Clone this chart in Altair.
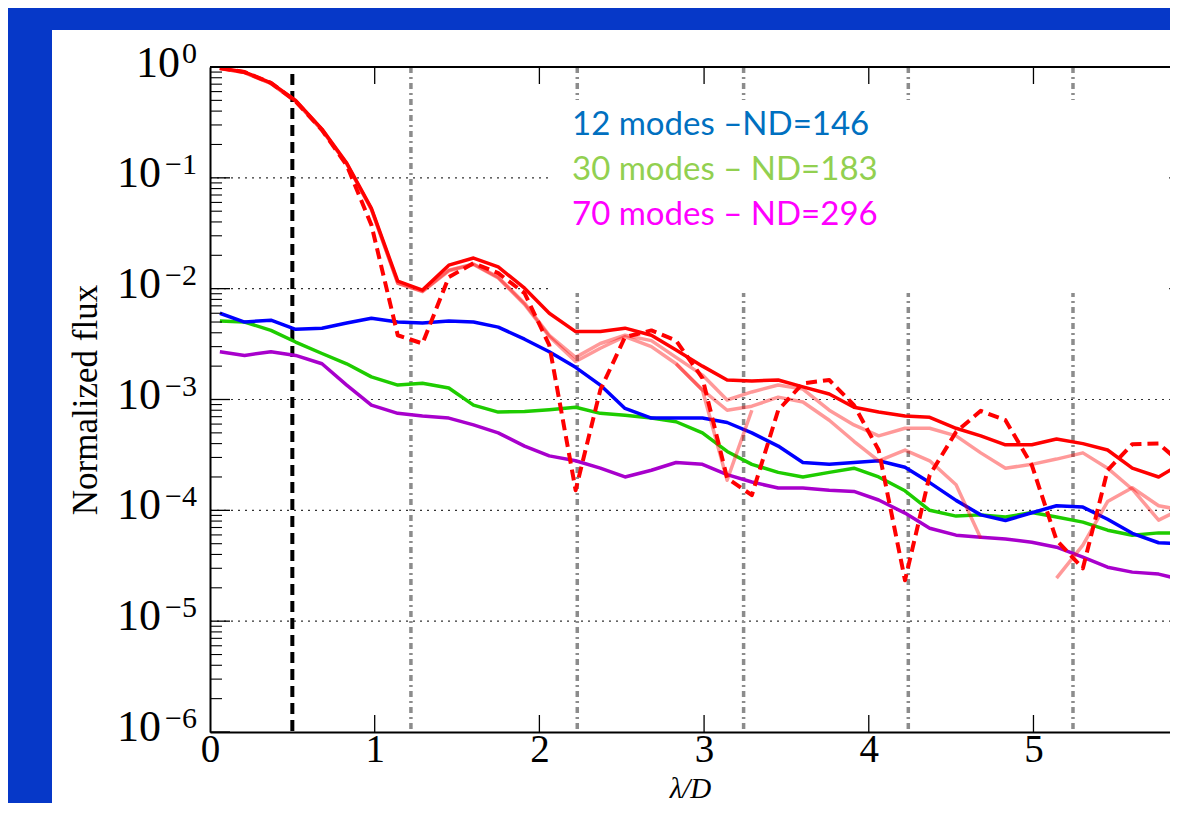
import altair as alt
import pandas as pd

# ---------------- data ----------------
X_LD = [0.06, 0.21, 0.37, 0.52, 0.68, 0.83, 0.98, 1.14, 1.29, 1.45, 1.60, 1.75, 1.91,
        2.06, 2.22, 2.37, 2.52, 2.68, 2.83, 2.99, 3.14, 3.29, 3.45, 3.60, 3.76, 3.91,
        4.06, 4.22, 4.37, 4.53, 4.68, 4.83, 4.99, 5.14, 5.30, 5.45, 5.60, 5.76, 5.91]

RED_SOLID = [0.98, 0.90, 0.72, 0.50, 0.275, 0.136, 0.053, 0.0117, 0.0097, 0.0163, 0.0189,
             0.0157, 0.0101, 0.0060, 0.0041, 0.0041, 0.0044, 0.0038, 0.0028, 0.0020, 0.0015,
             0.00147, 0.0015, 0.0013, 0.00112, 0.00085, 0.00077, 0.00071, 0.00069, 0.00055,
             0.00047, 0.00039, 0.00039, 0.00044, 0.00040, 0.00035, 0.00024, 0.00020, 0.00027]

RED_DASHED = [0.98, 0.90, 0.72, 0.49, 0.27, 0.13, 0.0375, 0.0038, 0.0032, 0.0127, 0.017,
              0.0138, 0.0091, 0.0031, 0.000152, 0.00122, 0.00366, 0.0042, 0.0034, 0.00156,
              0.000195, 0.000137, 0.0008, 0.0014, 0.0015, 0.00089, 0.00035, 0.0000234,
              0.000208, 0.00051, 0.00079, 0.00065, 0.000256, 0.0000538, 0.00003, 0.00023,
              0.000395, 0.00040, 0.000256]

PINK_1 = [0.97, 0.89, 0.71, 0.49, 0.27, 0.134, 0.052, 0.0112, 0.0095, 0.0147, 0.0167,
          0.0127, 0.0074, 0.0038, 0.0024, 0.0032, 0.0038, 0.0034, 0.0024, 0.00166, 0.00099,
          0.00117, 0.00135, 0.00124, 0.0008, 0.00059, 0.00047, 0.00055, 0.00055, 0.00047,
          0.00033, 0.00024, 0.00026, 0.00029, 0.00033, 0.00024, 0.000155, 0.0000816, 0.000105]

PINK_2 = [0.97, 0.89, 0.71, 0.49, 0.27, 0.134, 0.052, 0.0112, 0.0094, 0.0145, 0.0165,
          0.0125, 0.0072, 0.0037, 0.0022, 0.0029, 0.0037, 0.0030, 0.0021, 0.00122, 0.0008,
          0.00087, 0.00105, 0.00095, 0.00065, 0.00042, 0.00028, 0.00035, 0.00028, 0.00017,
          0.000056, None, None, 0.0000245, 0.0000485, 0.00012, 0.00016, 0.00011, 0.00010]

PINK_3 = [None] * 18 + [0.0021, 0.00122, 0.000187, 0.00080] + [None] * 17

BLUE = [0.0060, 0.0050, 0.0052, 0.0043, 0.0044, 0.0049, 0.0054, 0.0050, 0.0049, 0.0051,
        0.0050, 0.0045, 0.0035, 0.0027, 0.00195, 0.00135, 0.00083, 0.00068, 0.00068, 0.00068,
        0.00062, 0.0005, 0.00038, 0.00027, 0.00026, 0.00027, 0.00028, 0.000245, 0.000178,
        0.000123, 0.000091, 0.000081, 0.000095, 0.00011, 0.000107, 0.000083, 0.000062,
        0.000051, 0.00005]

GREEN = [0.0051, 0.0050, 0.0042, 0.0033, 0.0026, 0.0021, 0.0016, 0.00135, 0.0014, 0.00127,
         0.00089, 0.00077, 0.00078, 0.00081, 0.00085, 0.00075, 0.00072, 0.00068, 0.00063,
         0.0005, 0.00034, 0.00026, 0.00022, 0.0002, 0.00022, 0.00024, 0.0002, 0.00015, 0.0001,
         0.0000887, 0.000091, 0.0000869, 0.0000955, 0.0000869, 0.0000783, 0.0000662,
         0.0000597, 0.0000626, 0.0000626]

PURPLE = [0.0027, 0.0025, 0.0027, 0.0025, 0.0021, 0.00135, 0.00089, 0.00075, 0.00071,
          0.00068, 0.00059, 0.0005, 0.00038, 0.00031, 0.00028, 0.00024, 0.0002, 0.00023,
          0.00027, 0.00026, 0.00021, 0.00018, 0.000159, 0.000159, 0.000152, 0.000148,
          0.000124, 0.0000944, 0.000069, 0.0000597, 0.0000573, 0.000055, 0.0000516,
          0.0000465, 0.0000378, 0.0000307, 0.0000277, 0.0000266, 0.0000234]

AIRY_ZEROS = [1.22, 2.23, 3.24, 4.24, 5.24]
IWA = [0.5]
X_TICKS = [1, 2, 3, 4, 5]
Y_MAJOR = [1, 1e-1, 1e-2, 1e-3, 1e-4, 1e-5, 1e-6]
Y_EXP = ["0", "\u22121", "\u22122", "\u22123", "\u22124", "\u22125", "\u22126"]
Y_GRID = [1e-1, 1e-2, 1e-3, 1e-4, 1e-5]
MINOR_MULT = [2, 3, 4, 5, 6, 7, 8, 9]
Y_MINOR = [m * 10.0 ** e for e in range(-6, 0) for m in MINOR_MULT]

LEGEND_LINES = ["12 modes \u2013ND=146", "30 modes \u2013 ND=183", "70 modes \u2013 ND=296"]
LEGEND_COLORS = ["#0070C0", "#92D050", "#FF00FF"]

# ---------------- layout / style ----------------
W, H = 960, 665
X_MAX = 5.829
SERIF = "Liberation Serif"
BG = "#0638c8"

xs = alt.Scale(domain=[0, X_MAX], nice=False, zero=False)
ys = alt.Scale(type="log", domain=[1e-6, 1], nice=False)

X_AX = alt.Axis(title="\u03bb/D", values=[0, 1, 2, 3, 4, 5], format="d",
                labelFont=SERIF, labelFontSize=39, labelColor="black", labelPadding=-2,
                labelOverlap=False, labelFlush=False, ticks=False, grid=False,
                domain=True, domainColor="black", domainWidth=2, zindex=2,
                titleFont=SERIF, titleFontStyle="italic", titleFontWeight="normal",
                titleFontSize=29, titleColor="black", titleY=65,
                titleBaseline="alphabetic")
Y_AX = alt.Axis(title="Normalized flux", labels=False, ticks=False, grid=False,
                domain=True, domainColor="black", domainWidth=2, zindex=2,
                titleFont=SERIF, titleFontWeight="normal", titleFontSize=35,
                titleColor="black", titleAngle=270, titleX=-125, titleY=H / 2,
                titleAlign="center", titleBaseline="middle")


def xq(f):
    return alt.X(f"{f}:Q", scale=xs, axis=X_AX)


def yq(f):
    return alt.Y(f"{f}:Q", scale=ys, axis=Y_AX)


def series_df(name, vals):
    rows, seg = [], 0
    for x, v in zip(X_LD, vals):
        if v is None:
            seg += 1
            continue
        rows.append({"x": x, "y": v, "key": f"{name}-{seg}"})
    return pd.DataFrame(rows)


def line_layer(df, color, width, dash=None, opacity=1.0):
    kw = dict(color=color, strokeWidth=width, clip=True, opacity=opacity,
              strokeJoin="round")
    if dash:
        kw["strokeDash"] = dash
    return alt.Chart(df).mark_line(**kw).encode(
        x=xq("x"), y=yq("y"), detail="key:N", order="x:Q")


one = pd.DataFrame({"a": [0]})

panel = alt.Chart(one).mark_rect(color="white").encode(
    x=alt.value(-158), x2=alt.value(W + 20), y=alt.value(-37), y2=alt.value(H + 100))

hgrid = alt.Chart(pd.DataFrame({"v": Y_GRID})).mark_rule(
    color="#333333", strokeWidth=1.1, strokeDash=[2, 5]).encode(
    y=yq("v"), x=alt.value(0), x2=alt.value(W))

airy = alt.Chart(pd.DataFrame({"v": AIRY_ZEROS})).mark_rule(
    color="#8c8c8c", strokeWidth=3.5, strokeDash=[6, 4, 2, 4]).encode(
    x=xq("v"), y=alt.value(0), y2=alt.value(H))

legend_box = alt.Chart(one).mark_rect(color="white").encode(
    x=alt.value(338), x2=alt.value(955), y=alt.value(33), y2=alt.value(226))

iwa = alt.Chart(pd.DataFrame({"v": IWA})).mark_rule(
    color="black", strokeWidth=4, strokeDash=[11, 6], strokeDashOffset=-7).encode(
    x=xq("v"), y=alt.value(0), y2=alt.value(H))

pinks = pd.concat([series_df("p1", PINK_1), series_df("p2", PINK_2),
                   series_df("p3", PINK_3)])

lines = [
    line_layer(series_df("purple", PURPLE), "#a800cc", 3.5),
    line_layer(series_df("green", GREEN), "#1ecc00", 3.5),
    line_layer(series_df("blue", BLUE), "#0000ff", 3.5),
    line_layer(pinks, "#ff0000", 3.5, opacity=0.4),
    line_layer(series_df("rs", RED_SOLID), "#ff0000", 3.5),
    line_layer(series_df("rd", RED_DASHED), "#ff0000", 4, dash=[11, 6]),
]

top_frame = alt.Chart(one).mark_rule(color="black", strokeWidth=2).encode(
    x=alt.value(0), x2=alt.value(W), y=alt.value(0))

ymaj_ticks = alt.Chart(pd.DataFrame({"v": Y_MAJOR})).mark_rule(
    color="black", strokeWidth=1.3).encode(y=yq("v"), x=alt.value(0), x2=alt.value(20))
ymin_ticks = alt.Chart(pd.DataFrame({"v": Y_MINOR})).mark_rule(
    color="black", strokeWidth=1.1).encode(y=yq("v"), x=alt.value(0), x2=alt.value(12))
xt_df = pd.DataFrame({"v": X_TICKS})
xbot_ticks = alt.Chart(xt_df).mark_rule(color="black", strokeWidth=1.3).encode(
    x=xq("v"), y=alt.value(H), y2=alt.value(H - 17))
xtop_ticks = alt.Chart(xt_df).mark_rule(color="black", strokeWidth=1.3).encode(
    x=xq("v"), y=alt.value(0), y2=alt.value(17))

lab_df = pd.DataFrame({"v": Y_MAJOR, "e": Y_EXP})
ten_top = alt.Chart(lab_df.iloc[:1]).mark_text(
    font=SERIF, fontSize=44, align="right", baseline="middle", dy=-3, color="black").encode(
    y=yq("v"), x=alt.value(-30), text=alt.value("10"))
ten_rest = alt.Chart(lab_df.iloc[1:]).mark_text(
    font=SERIF, fontSize=44, align="right", baseline="middle", dy=-4, color="black").encode(
    y=yq("v"), x=alt.value(-49), text=alt.value("10"))
exps = alt.Chart(lab_df).mark_text(
    font=SERIF, fontSize=30, align="right", baseline="middle", dy=-13, color="black").encode(
    y=yq("v"), x=alt.value(-13), text="e:N")

legend_texts = []
for i, (txt, col) in enumerate(zip(LEGEND_LINES, LEGEND_COLORS)):
    legend_texts.append(
        alt.Chart(one).mark_text(font="Lato", fontSize=33, align="left",
                                 baseline="alphabetic").encode(
            x=alt.value(362), y=alt.value(68 + 45 * i), text=alt.value(txt),
            color=alt.value(col)))

chart = alt.layer(
    panel, hgrid, airy, legend_box, iwa, *lines, top_frame,
    ymaj_ticks, ymin_ticks, xbot_ticks, xtop_ticks, ten_top, ten_rest, exps,
    *legend_texts,
).properties(
    width=W, height=H,
    padding={"left": 202, "top": 59, "right": 0, "bottom": 71},
    autosize=alt.AutoSizeParams(type="none"),
    background=BG,
).configure_view(stroke=None)

chart.save("out.html", embed_options={"renderer": "svg", "actions": False})
